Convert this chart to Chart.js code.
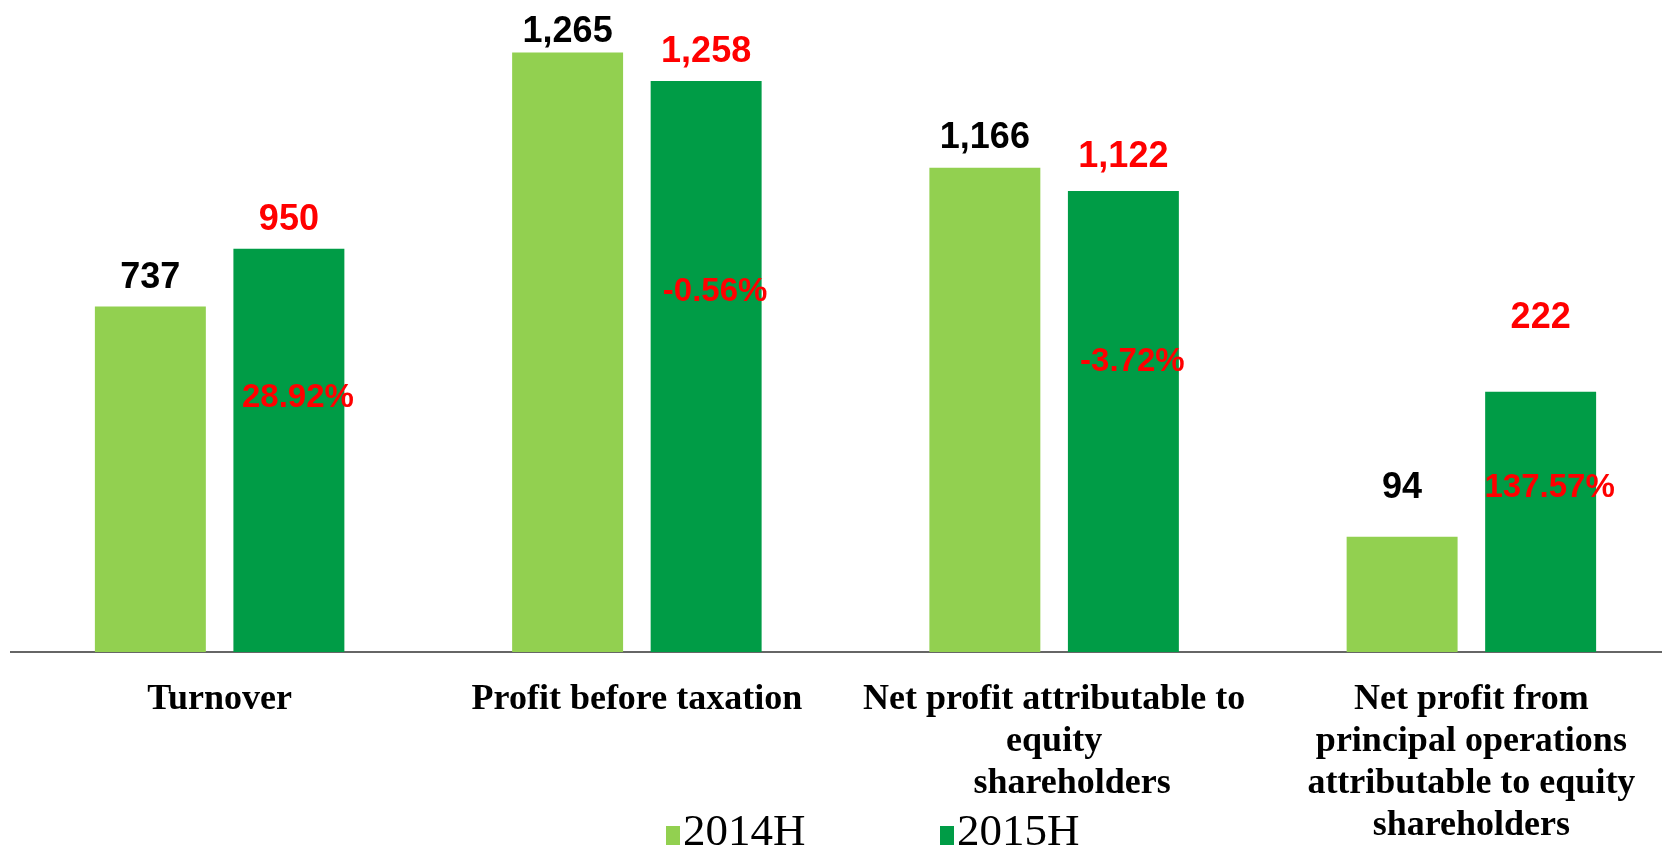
<!DOCTYPE html>
<html lang="en">
<head>
    <meta charset="UTF-8">
    <title>2015H vs 2014H</title>
    <script src="https://cdn.jsdelivr.net/npm/chart.js"></script>
    <style>
        html, body {
            margin: 0;
            padding: 0;
            background-color: #ffffff;
            overflow: hidden;
        }

        .chart-container {
            position: relative;
            width: 1690px;
            height: 848px;
        }
    </style>
</head>
<body>
    <div class="chart-container">
        <canvas id="results-chart"></canvas>
    </div>

    <script>
        const categories = [
            'Turnover',
            'Profit before taxation',
            ['Net profit attributable to', 'equity', '    shareholders'],
            ['Net profit from', 'principal operations', 'attributable to equity', 'shareholders']
        ];
        const seriesNames = ['2014H', '2015H'];

        // figures printed above the bars
        const values2014 = [737, 1265, 1166, 94];
        const values2015 = [950, 1258, 1122, 222];
        const changes2015 = ['28.92%', '-0.56%', '-3.72%', '137.57%'];

        // bar heights as drawn in the source slide (not to scale with the printed figures)
        const drawn2014 = [729, 1265, 1022, 243];
        const drawn2015 = [851, 1205, 973, 549];

        const barLabels = {
            id: 'barLabels',
            afterDatasetsDraw(chart, args, opts) {
                const ctx = chart.ctx;
                const yScale = chart.scales.y;
                ctx.save();
                ctx.textAlign = 'center';
                chart.data.datasets.forEach((ds, i) => {
                    const meta = chart.getDatasetMeta(i);
                    meta.data.forEach((bar, j) => {
                        // value on top of bar
                        ctx.font = 'bold 36px "Liberation Sans", Arial, sans-serif';
                        ctx.textBaseline = 'alphabetic';
                        ctx.fillStyle = opts.valueColors[i];
                        ctx.fillText(ds.printed[j].toLocaleString('en-US'), bar.x, bar.y - opts.lift[i][j]);

                        // growth rate inside the 2015H bar
                        if (ds.changes) {
                            ctx.font = 'bold 33px "Liberation Sans", Arial, sans-serif';
                            ctx.textBaseline = 'middle';
                            ctx.fillStyle = opts.changeColor;
                            const y = yScale.getPixelForValue(ds.data[j] * 0.63);
                            ctx.fillText(ds.changes[j], bar.x + 9, y);
                        }
                    });
                });
                ctx.restore();
            }
        };

        const bottomLegend = {
            id: 'bottomLegend',
            afterDraw(chart, args, opts) {
                const ctx = chart.ctx;
                ctx.save();
                ctx.font = '45px "Liberation Serif", "Times New Roman", serif';
                ctx.textAlign = 'left';
                ctx.textBaseline = 'alphabetic';
                chart.data.datasets.forEach((ds, i) => {
                    const x = opts.x[i];
                    ctx.fillStyle = ds.backgroundColor;
                    ctx.fillRect(x, opts.baseline - 19, 14, 19);
                    ctx.fillStyle = '#000000';
                    ctx.fillText(ds.label, x + 17, opts.baseline);
                });
                ctx.restore();
            }
        };

        const ctxResults = document.getElementById('results-chart').getContext('2d');
        const resultsChart = new Chart(ctxResults, {
            type: 'bar',
            data: {
                labels: categories,
                datasets: [
                    {
                        label: seriesNames[0],
                        data: drawn2014,
                        printed: values2014,
                        backgroundColor: '#92d050',
                        categoryPercentage: 0.664,
                        barPercentage: 0.801
                    },
                    {
                        label: seriesNames[1],
                        data: drawn2015,
                        printed: values2015,
                        changes: changes2015,
                        backgroundColor: '#009c46',
                        categoryPercentage: 0.664,
                        barPercentage: 0.801
                    }
                ]
            },
            options: {
                responsive: true,
                maintainAspectRatio: false,
                animation: false,
                layout: {
                    padding: { left: 11, right: 10, top: 0, bottom: 0 }
                },
                scales: {
                    x: {
                        offset: true,
                        z: 1,
                        grid: { display: false, drawTicks: false },
                        border: { display: true, color: '#666666', width: 2 },
                        ticks: {
                            color: '#000000',
                            padding: 27,
                            maxRotation: 0,
                            autoSkip: false,
                            font: {
                                family: '"Liberation Serif", "Times New Roman", serif',
                                size: 36,
                                weight: 'bold',
                                lineHeight: 1.1667
                            }
                        },
                        afterFit(scale) {
                            scale.height = 196;
                        }
                    },
                    y: {
                        display: false,
                        min: 0,
                        max: 1376
                    }
                },
                plugins: {
                    legend: { display: false },
                    tooltip: { enabled: false },
                    barLabels: {
                        valueColors: ['#000000', '#ff0000'],
                        changeColor: '#ff0000',
                        lift: [[19, 11, 20, 39], [19, 19, 24, 64]]
                    },
                    bottomLegend: {
                        x: [666, 940],
                        baseline: 845
                    }
                }
            },
            plugins: [barLabels, bottomLegend]
        });
    </script>
</body>
</html>
